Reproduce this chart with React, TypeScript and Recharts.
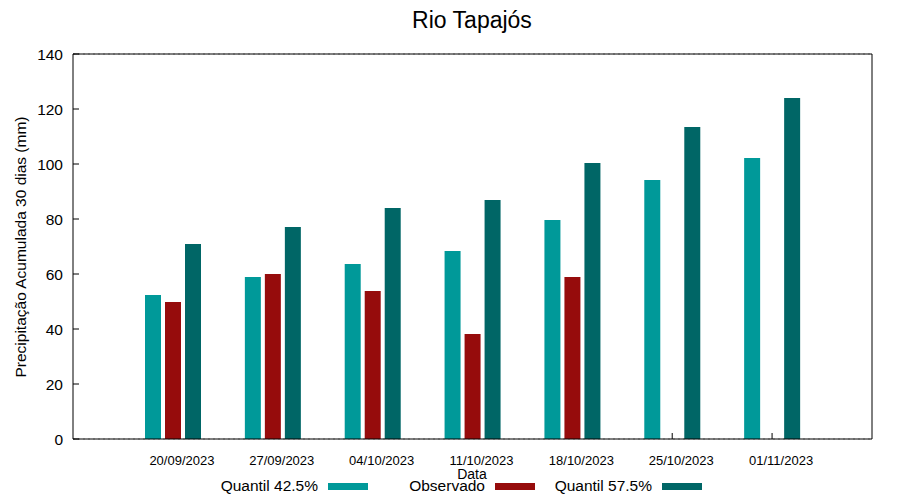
import React from "react"
import { BarChart, Bar, XAxis, YAxis, CartesianGrid, Legend, ReferenceLine } from "recharts"

const dates = ["20/09/2023", "27/09/2023", "04/10/2023", "11/10/2023", "18/10/2023", "25/10/2023", "01/11/2023"]
const quantil425 = [52.4, 58.9, 63.6, 68.4, 79.6, 94.2, 102.2]
const observado = [49.8, 60.0, 53.8, 38.2, 58.9, null, null]
const quantil575 = [70.9, 77.1, 84.0, 86.9, 100.4, 113.5, 124.0]
const yTicks = [0, 20, 40, 60, 80, 100, 120, 140]

const seriesNames = ["Quantil 42.5%", "Observado", "Quantil 57.5%"]
const seriesColors = ["#009999", "#960c0c", "#006666"]

const data = dates.map((d, i) => ({
  date: d,
  q425: quantil425[i],
  obs: observado[i],
  q575: quantil575[i],
}))

const FONT = "'Liberation Sans', Arial, sans-serif"

const YTick = (props: any) => {
  const { x, y, payload } = props
  return (
    <g>
      <line x1={x + 10} x2={x + 16} y1={y} y2={y} stroke="#000" />
      <text x={x} y={y} dy="0.36em" textAnchor="end" fontSize={15.5} fontFamily={FONT} fill="#000">
        {payload.value}
      </text>
    </g>
  )
}

const RightTick = (props: any) => {
  const { x, y } = props
  return <line x1={x - 6} x2={x} y1={y} y2={y} stroke="#000" />
}

const XTick = (props: any) => {
  const { x, y, payload, index } = props
  // the tick mark sits behind the middle bar, so it only shows where that bar is missing
  const hidden = observado[index] != null
  return (
    <g>
      {!hidden && <line x1={x} x2={x} y1={y - 6} y2={y} stroke="#000" />}
      <text x={x + 9} y={y + 26} textAnchor="middle" fontSize={13} fontFamily={FONT} fill="#000">
        {payload.value}
      </text>
    </g>
  )
}

const LegendContent = () => (
  <div style={{ position: "relative", width: 900, height: 20, fontFamily: FONT, fontSize: 15.5 }}>
    {seriesNames.map((name, i) => {
      const sampleLeft = 328 + 167 * i
      return (
        <React.Fragment key={name}>
          <span
            style={{
              position: "absolute",
              right: 900 - (sampleLeft - 10),
              top: 0,
              lineHeight: "20px",
              whiteSpace: "nowrap",
              color: "#000",
            }}
          >
            {name}
          </span>
          <span
            style={{
              position: "absolute",
              left: sampleLeft,
              top: 7,
              width: 40,
              height: 7,
              background: seriesColors[i],
            }}
          />
        </React.Fragment>
      )
    })}
  </div>
)

export default function App() {
  return (
    <div style={{ position: "absolute", left: 0, top: 0, width: 900, height: 500, background: "#fff" }}>
      <BarChart
        width={900}
        height={500}
        data={data}
        margin={{ top: 54, right: 0, left: 0, bottom: 0 }}
        barSize={16}
        barGap={4}
      >
        <text x={472} y={28} textAnchor="middle" fontSize={23} fontFamily={FONT} fill="#000">
          Rio Tapajós
        </text>
        <text
          x={26}
          y={247}
          transform="rotate(-90 26 247)"
          textAnchor="middle"
          fontSize={15.5}
          fontFamily={FONT}
          fill="#000"
        >
          Precipitação Acumulada 30 dias (mm)
        </text>
        <text x={472} y={479} textAnchor="middle" fontSize={14} fontFamily={FONT} fill="#000">
          Data
        </text>
        <CartesianGrid vertical={false} stroke="#a0a0a0" strokeDasharray="2 3" />
        <XAxis
          dataKey="date"
          height={41}
          padding={{ left: 50, right: 50 }}
          tickSize={0}
          tickMargin={0}
          tick={<XTick />}
          axisLine={{ stroke: "#000" }}
          interval={0}
        />
        <YAxis
          yAxisId="left"
          width={73}
          domain={[0, 140]}
          ticks={yTicks}
          tickSize={0}
          tickMargin={10}
          tick={<YTick />}
          axisLine={{ stroke: "#000" }}
        />
        <YAxis
          yAxisId="right"
          orientation="right"
          width={28}
          domain={[0, 140]}
          ticks={yTicks}
          tickSize={0}
          tickMargin={0}
          tick={<RightTick />}
          axisLine={{ stroke: "#000" }}
        />
        <ReferenceLine yAxisId="left" y={140} stroke="#000" />
        <Bar yAxisId="left" dataKey="q425" name={seriesNames[0]} fill={seriesColors[0]} isAnimationActive={false} />
        <Bar yAxisId="left" dataKey="obs" name={seriesNames[1]} fill={seriesColors[1]} isAnimationActive={false} />
        <Bar yAxisId="left" dataKey="q575" name={seriesNames[2]} fill={seriesColors[2]} isAnimationActive={false} />
        <Legend
          content={<LegendContent />}
          wrapperStyle={{ position: "absolute", left: 0, top: 476, width: 900, height: 20 }}
        />
      </BarChart>
    </div>
  )
}
